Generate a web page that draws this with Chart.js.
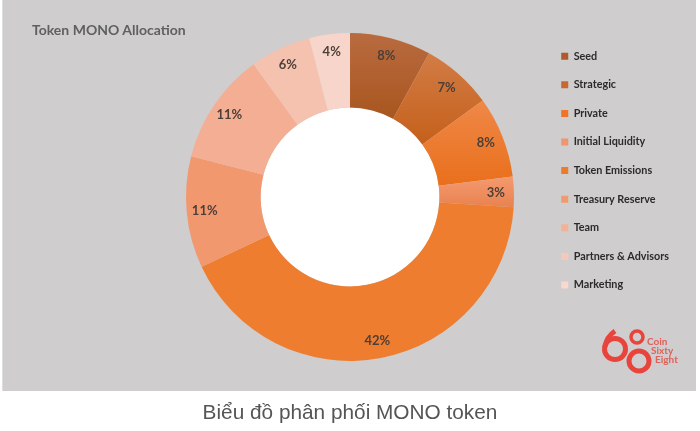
<!DOCTYPE html>
<html>
<head>
<meta charset="utf-8">
<title>Token MONO Allocation</title>
<script src="https://cdn.jsdelivr.net/npm/chart.js@4/dist/chart.umd.js"></script>
<style>
    html, body { margin: 0; padding: 0; background: #fff; }
    #page { position: relative; width: 700px; height: 431px; overflow: hidden; }
    #panel { position: absolute; left: 2px; top: 0; width: 694px; height: 391px; background: #cfcdcd; border-left: 1px solid #dedddd; box-sizing: border-box; }
    canvas { position: absolute; left: 0; top: 0; }
    #title { position: absolute; left: 32px; top: 21px; font: bold 14px Lato, sans-serif; color: #606060; }
    #caption { position: absolute; left: 0; width: 700px; top: 400px; text-align: center; font: 20.8px "Liberation Sans", sans-serif; color: #555; }
    #logo { position: absolute; left: 595px; top: 322px; }
</style>
</head>
<body>
<div id="page">
    <div id="panel"></div>
    <canvas id="allocationChart" width="700" height="431"></canvas>
    <div id="title">Token MONO Allocation</div>
    <svg id="logo" width="100" height="60" viewBox="0 0 100 60">
        <g fill="none" stroke="#e8443c">
            <circle cx="20" cy="27" r="10.5" stroke-width="5"/>
            <path d="M10 25 C11 18 14 13 20 9" stroke-width="5"/>
            <circle cx="42" cy="15" r="6" stroke-width="3.5"/>
            <circle cx="44" cy="39" r="10" stroke-width="5"/>
        </g>
        <g fill="#e0605a" font-family="Lato, sans-serif" font-size="10" font-weight="bold">
            <text x="52" y="23">Coin</text>
            <text x="56" y="32">Sixty</text>
            <text x="60" y="41">Eight</text>
        </g>
    </svg>
    <div id="caption">Biểu đồ phân phối MONO token</div>
</div>

<script>
// Token allocation data
const categories = ["Seed", "Strategic", "Private", "Initial Liquidity", "Token Emissions", "Treasury Reserve", "Team", "Partners & Advisors", "Marketing"];
const allocation = [8, 7, 8, 3, 42, 11, 11, 6, 4];

const topColors = ["#b96b40", "#d27c45", "#ef8847", "#f49a70", "#ee7d2f", "#f2986f", "#f4ae93", "#f6c2b0", "#f8d5ca"];
const bottomColors = ["#a9561f", "#c5601b", "#e96f1c", "#e9824f", "#ee7d2f", "#f2986f", "#f4ae93", "#f6c2b0", "#f8d5ca"];
const legendColors = ["#b0592a", "#c8682e", "#ed7428", "#f19470", "#ee7a2c", "#f09a70", "#f3b195", "#f7c8b8", "#f8d8cf"];

const CUTOUT = 0.545;

// each slice gets a vertical gradient over its own height, like the office chart
function sliceColor(context) {
    const i = context.dataIndex;
    const area = context.chart.chartArea;
    if (!area || topColors[i] === bottomColors[i]) return topColors[i];

    const total = allocation.reduce((a, b) => a + b, 0);
    const before = allocation.slice(0, i).reduce((a, b) => a + b, 0);
    const start = before / total * Math.PI * 2;
    const end = (before + allocation[i]) / total * Math.PI * 2;
    const cy = (area.top + area.bottom) / 2;
    const r = Math.min(area.width, area.height) / 2;
    const ys = [r, r * CUTOUT].flatMap(rad => [cy - rad * Math.cos(start), cy - rad * Math.cos(end)]);

    const g = context.chart.ctx.createLinearGradient(0, Math.min(...ys), 0, Math.max(...ys));
    g.addColorStop(0, topColors[i]);
    g.addColorStop(1, bottomColors[i]);
    return g;
}

// white hole in the middle, the panel behind is grey
const holePlugin = {
    id: "hole",
    beforeDatasetsDraw(chart) {
        const arc = chart.getDatasetMeta(0).data[0];
        const ctx = chart.ctx;
        ctx.save();
        ctx.fillStyle = "#fff";
        ctx.beginPath();
        ctx.arc(arc.x, arc.y, arc.innerRadius, 0, Math.PI * 2);
        ctx.fill();
        ctx.restore();
    }
};

// percent labels sit near the outer edge of each slice
const percentPlugin = {
    id: "percentLabels",
    afterDatasetsDraw(chart) {
        const ctx = chart.ctx;
        ctx.save();
        ctx.font = "bold 13px Lato, sans-serif";
        ctx.fillStyle = "#4b3f38";
        ctx.textAlign = "center";
        ctx.textBaseline = "middle";
        chart.getDatasetMeta(0).data.forEach((arc, i) => {
            const mid = (arc.startAngle + arc.endAngle) / 2;
            const r = arc.outerRadius * 0.89;
            ctx.fillText(allocation[i] + "%", arc.x + Math.cos(mid) * r, arc.y + Math.sin(mid) * r);
        });
        ctx.restore();
    }
};

new Chart(document.getElementById("allocationChart"), {
    type: "doughnut",
    data: {
        labels: categories,
        datasets: [{
            data: allocation,
            backgroundColor: sliceColor,
            borderWidth: 0
        }]
    },
    options: {
        responsive: false,
        animation: false,
        cutout: (CUTOUT * 100) + "%",
        layout: { padding: { left: 156.6, right: 21, top: 33, bottom: 70 } },
        plugins: {
            tooltip: { enabled: false },
            legend: {
                position: "right",
                align: "start",
                labels: {
                    boxWidth: 7,
                    boxHeight: 7,
                    padding: 17.8,
                    color: "#2b2b2b",
                    font: { family: "Lato, sans-serif", size: 10.8, weight: "bold" },
                    generateLabels: () => categories.map((text, i) => ({
                        text: text,
                        fillStyle: legendColors[i],
                        strokeStyle: legendColors[i],
                        lineWidth: 0,
                        fontColor: "#2b2b2b",
                        index: i
                    }))
                }
            }
        }
    },
    plugins: [holePlugin, percentPlugin]
});
</script>
</body>
</html>
